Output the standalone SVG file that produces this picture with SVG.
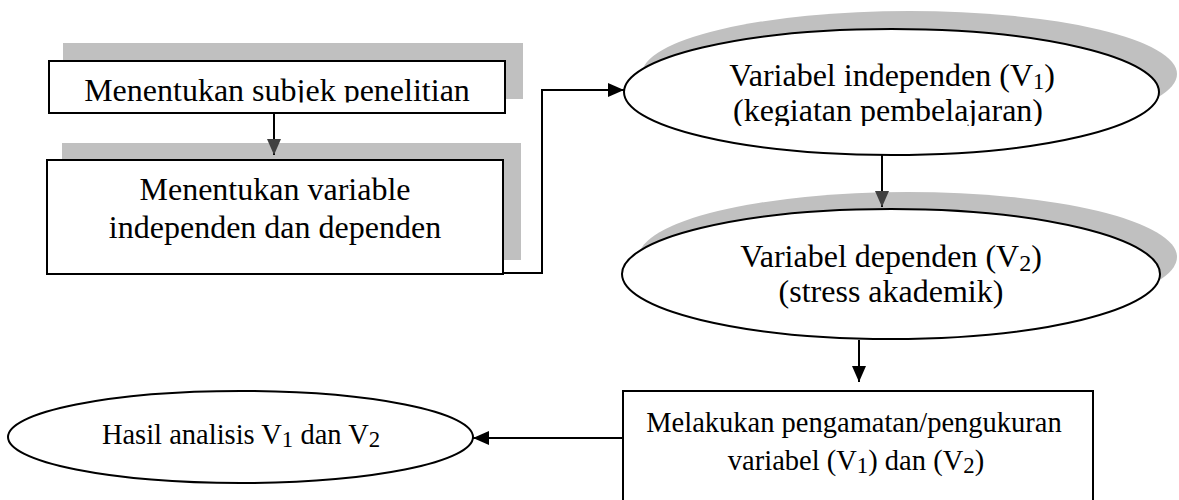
<svg xmlns="http://www.w3.org/2000/svg" width="1179" height="500" viewBox="0 0 1179 500">
<style>
.sh{fill:#c0c0c0;stroke:none}
.nd{fill:#fff;stroke:#000;stroke-width:2}
.t{font-family:"Liberation Serif","Times New Roman",serif;fill:#000;text-anchor:middle}
.t32{font-size:32px}
.t28{font-size:28.5px}
.c{fill:none;stroke:#000;stroke-width:2}
</style>
<defs>
<marker id="ab" markerUnits="userSpaceOnUse" markerWidth="16" markerHeight="14" refX="16" refY="7" orient="auto"><path d="M0,0 L16,7 L0,14 z" fill="#000"/></marker>
<marker id="ag" markerUnits="userSpaceOnUse" markerWidth="16" markerHeight="14" refX="16" refY="7" orient="auto"><path d="M0,0 L16,7 L0,14 z" fill="#404040"/></marker>
<clipPath id="clip1"><rect x="49" y="61" width="456" height="41.5"/></clipPath>
<clipPath id="clip2"><rect x="600" y="97" width="560" height="29"/></clipPath>
</defs>
<rect width="1179" height="500" fill="#fff"/>
<g id="box1">
<rect class="sh" x="63" y="43" width="460" height="56"/>
<rect class="nd" x="49" y="61" width="456" height="52"/>
<text class="t t32" x="277" y="101" clip-path="url(#clip1)">Menentukan subjek penelitian</text>
</g>
<g id="box2">
<rect class="sh" x="62" y="143" width="459" height="117"/>
<rect class="nd" x="47" y="160" width="456" height="114"/>
<text class="t t32" x="275" y="200">Menentukan variable</text>
<text class="t t32" x="275" y="238">independen dan dependen</text>
</g>
<g id="ellipse1">
<ellipse class="sh" cx="909.5" cy="74" rx="267.5" ry="63"/>
<ellipse class="nd" cx="891.5" cy="92" rx="267.5" ry="63"/>
<text class="t t32" x="892" y="86">Variabel independen (V<tspan font-size="70%" dy="3">1</tspan><tspan dy="-3">)</tspan></text>
<text class="t t32" x="888" y="121" clip-path="url(#clip2)">(kegiatan pembelajaran)</text>
</g>
<g id="ellipse2">
<ellipse class="sh" cx="908" cy="257" rx="269" ry="65"/>
<ellipse class="nd" cx="891" cy="274" rx="269" ry="65"/>
<text class="t t32" x="891" y="267">Variabel dependen (V<tspan font-size="75%" dy="4">2</tspan><tspan dy="-4">)</tspan></text>
<text class="t t32" x="891" y="302">(stress akademik)</text>
</g>
<g id="box3">
<rect class="nd" x="623" y="391" width="470" height="125"/>
<text class="t t28" x="854" y="432">Melakukan pengamatan/pengukuran</text>
<text class="t t28" x="856" y="470">variabel (V<tspan font-size="80%" dy="3">1</tspan><tspan dy="-3">) dan (V</tspan><tspan font-size="80%" dy="3">2</tspan><tspan dy="-3">)</tspan></text>
</g>
<g id="hasil">
<ellipse class="nd" cx="240.5" cy="437" rx="232.5" ry="46"/>
<text class="t" x="241" y="444" font-size="28.5px">Hasil analisis V<tspan font-size="80%" dy="3">1</tspan><tspan dy="-3"> dan V</tspan><tspan font-size="80%" dy="3">2</tspan></text>
</g>
<g id="connectors">
<path class="c" d="M274,113 L274,155" marker-end="url(#ag)"/>
<path class="c" d="M503,273 L542,273 L542,90 L624,90" marker-end="url(#ab)"/>
<path class="c" d="M882,155 L882,207" marker-end="url(#ag)"/>
<path class="c" d="M859,340 L859,382" marker-end="url(#ab)"/>
<path class="c" d="M623,438 L473,438" marker-end="url(#ab)"/>
</g>
</svg>
